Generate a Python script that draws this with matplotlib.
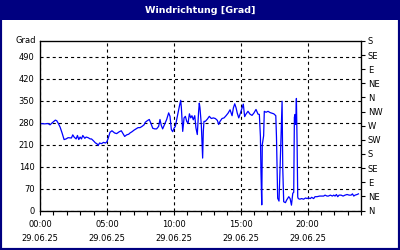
import matplotlib
matplotlib.use("Agg")
import matplotlib.pyplot as plt
from matplotlib.patches import Rectangle
from matplotlib.ticker import MultipleLocator, FixedLocator

# ---- data ----
hours = [0.0, 0.35, 0.6, 0.75, 0.9, 1.15, 1.25, 1.35, 1.5, 1.65, 1.8, 1.95, 2.1, 2.35, 2.45,
         2.55, 2.7, 2.8, 2.9, 3.0, 3.1, 3.2, 3.35, 3.45, 3.6, 3.75, 3.85, 4.0, 4.15, 4.25,
         4.35, 4.45, 4.6, 4.75, 4.9, 5.0, 5.1, 5.23, 5.38, 5.58, 5.73, 5.93, 6.08, 6.18, 6.33,
         6.48, 6.63, 6.73, 6.88, 7.03, 7.18, 7.33, 7.48, 7.63, 7.78, 7.87, 8.02, 8.17, 8.28,
         8.43, 8.58, 8.72, 8.87, 8.97, 9.07, 9.17, 9.32, 9.47, 9.62, 9.72, 9.82, 9.92, 10.02,
         10.12, 10.22, 10.32, 10.42, 10.52, 10.57, 10.67, 10.77, 10.87, 10.97, 11.07, 11.17,
         11.27, 11.36, 11.46, 11.57, 11.66, 11.76, 11.86, 11.91, 11.96, 12.06, 12.16, 12.21,
         12.26, 12.36, 12.51, 12.66, 12.81, 12.96, 13.11, 13.26, 13.36, 13.46, 13.61, 13.76,
         13.91, 14.06, 14.21, 14.36, 14.46, 14.56, 14.66, 14.75, 14.86, 14.95, 15.1, 15.2,
         15.3, 15.4, 15.55, 15.7, 15.85, 16.0, 16.15, 16.3, 16.4, 16.48, 16.52, 16.58, 16.62,
         16.72, 16.77, 16.9, 17.05, 17.2, 17.48, 17.63, 17.68, 17.77, 17.87, 17.98, 18.05,
         18.1, 18.15, 18.22, 18.35, 18.45, 18.6, 18.7, 18.8, 18.9, 18.97, 19.02, 19.07, 19.12,
         19.17, 19.22, 19.27, 19.31, 19.42, 19.56, 19.71, 19.86, 19.96, 20.06, 20.21, 20.31,
         20.46, 20.56, 20.71, 20.91, 21.06, 21.21, 21.31, 21.46, 21.56, 21.71, 21.86, 21.96,
         22.06, 22.16, 22.26, 22.36, 22.51, 22.66, 22.81, 22.96, 23.11, 23.26, 23.36, 23.46,
         23.56, 23.71, 23.81]
direction = [277, 276, 277, 273, 279, 288, 286, 279, 266, 247, 226, 228, 232, 231, 241,
             234, 228, 239, 226, 234, 228, 239, 230, 234, 232, 228, 228, 222, 215, 213,
             207, 215, 213, 217, 215, 219, 230, 249, 254, 247, 245, 251, 254, 247, 236,
             241, 243, 247, 251, 256, 260, 264, 264, 268, 273, 281, 286, 290, 279,
             262, 260, 260, 268, 290, 271, 260, 275, 290, 311, 300, 258, 251, 262,
             268, 290, 311, 332, 351, 327, 252, 295, 300, 284, 278, 308,
             295, 302, 289, 302, 263, 242, 316, 342, 327, 274, 167, 252,
             284, 284, 291, 300, 293, 295, 293, 287, 274, 284, 293, 295,
             302, 310, 321, 302, 327, 340, 327, 310, 295, 306, 326, 339,
             299, 307, 316, 307, 303, 311, 322, 307, 306, 235, 124, 18, 210,
             238, 316, 313, 316, 312, 308, 302, 235, 39, 30, 178, 284,
             348, 135, 28, 25, 34, 44, 38, 17, 55, 58, 297, 306, 274,
             357, 220, 43, 38, 36, 38, 36, 40, 38, 40, 38, 42,
             38, 44, 44, 46, 46, 46, 49, 46, 46, 49, 46, 49,
             46, 51, 44, 49, 49, 46, 49, 51, 49, 49, 53, 46,
             49, 51, 53]

x_major = [0, 5, 10, 15, 20]
x_labels = ["00:00\n29.06.25", "05:00\n29.06.25", "10:00\n29.06.25",
            "15:00\n29.06.25", "20:00\n29.06.25"]
y_ticks = [0, 70, 140, 210, 280, 350, 420, 490]
compass_vals = [0, 45, 90, 135, 180, 225, 270, 315, 360, 405, 450, 495, 540]
compass_labels = ["N", "NE", "E", "SE", "S", "SW", "W", "NW", "N", "NE", "E", "SE", "S"]
title = "Windrichtung [Grad]"

# ---- figure ----
plt.rcParams['font.family'] = ['DejaVu Sans']
plt.rcParams['lines.scale_dashes'] = False
navy = "#000080"
fig = plt.figure(figsize=(4, 2.5), dpi=100)
fig.patch.set_facecolor("white")

# frame and title bar
fig.patches.append(Rectangle((0, 0), 1, 1, transform=fig.transFigure, fill=False,
                             edgecolor=navy, linewidth=3, zorder=0))
fig.patches.append(Rectangle((0, 1 - 20 / 250), 1, 20 / 250, transform=fig.transFigure,
                             facecolor=navy, edgecolor="none", zorder=1))
fig.text(0.5, 1 - 10.5 / 250, title, color="white", fontsize=6.8, fontweight="bold",
         ha="center", va="center")

ax = fig.add_axes([40 / 400, (250 - 210.5) / 250, 321 / 400, 169.5 / 250])
ax.plot(hours, direction, color="#0000ff", linewidth=0.9, zorder=3)
ax.set_xlim(0, 24)
ax.set_ylim(0, 540)

ax.xaxis.set_major_locator(FixedLocator(x_major))
ax.set_xticklabels(x_labels, fontsize=6, linespacing=1.75)
ax.xaxis.set_minor_locator(MultipleLocator(1))
ax.tick_params(axis="x", which="both", direction="out", length=3, width=0.8, pad=4)

ax.set_yticks(y_ticks)
ax.set_yticklabels([str(v) for v in y_ticks], fontsize=6)
ax.tick_params(axis="y", which="both", length=0, pad=4)

ax.grid(True, which="major", color="black", linewidth=0.8, linestyle=(0, (2.2, 2.2)))
for s in ax.spines.values():
    s.set_linewidth(0.9)
    s.set_color("black")

ax.text(-0.012, 1.0, "Grad", transform=ax.transAxes, ha="right", va="center", fontsize=6)

ax2 = ax.twinx()
ax2.set_ylim(0, 540)
ax2.set_yticks(compass_vals)
ax2.set_yticklabels(compass_labels, fontsize=6)
ax2.tick_params(axis="y", direction="out", length=3, width=0.8, pad=2)

fig.savefig("out.png", dpi=100)
